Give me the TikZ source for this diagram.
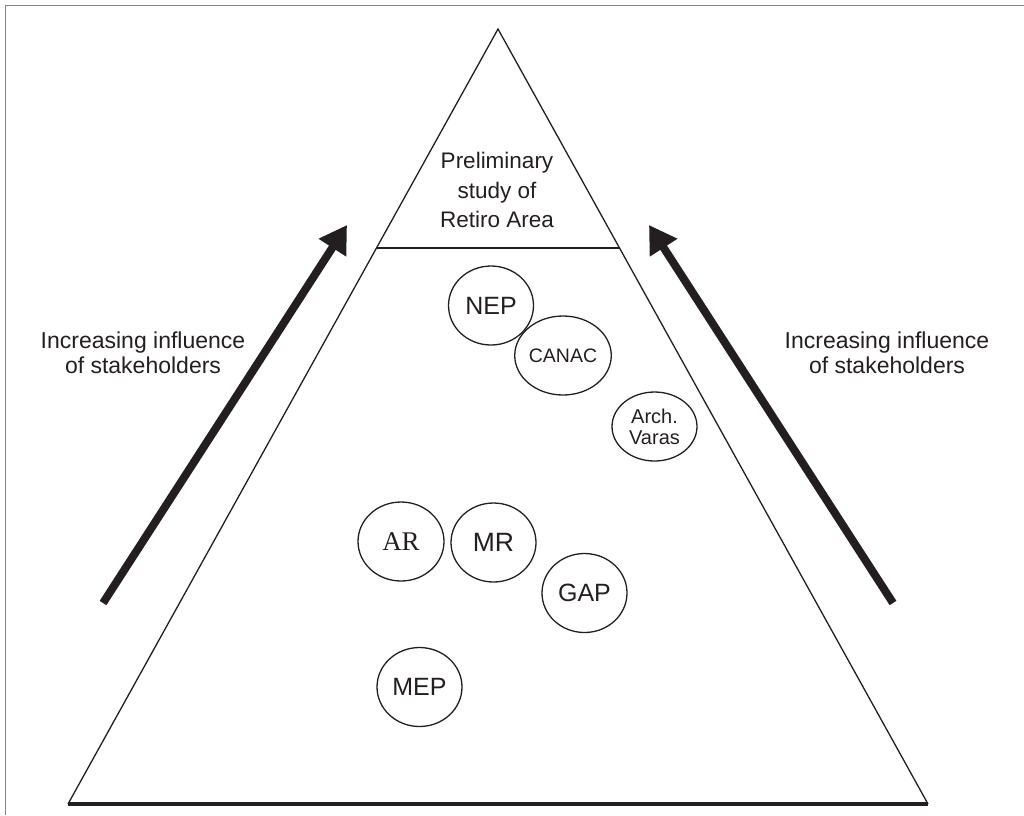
\documentclass[tikz,border=0pt]{standalone}
\usepackage{fontspec}
\setmainfont{Liberation Sans}
\newfontfamily\serifface{Liberation Serif}
\usetikzlibrary{shapes.geometric,arrows.meta}
\definecolor{ink}{HTML}{231F20}
\definecolor{framegray}{HTML}{858585}
\begin{document}
\begin{tikzpicture}[x=1pt,y=-1pt,
  actor/.style={ellipse,draw=ink,line width=1.3pt,inner sep=0pt,
    minimum width=85pt,minimum height=79pt,text=ink,align=center,
    font=\fontsize{25}{27}\selectfont},
  sideline/.style={draw=ink,line width=1.3pt,line join=miter},
  influence/.style={draw=ink,line width=8pt,
    -{Triangle[length=27pt,width=31pt]}},
  caption/.style={text=ink,align=center,font=\fontsize{23}{25}\selectfont}]
  \useasboundingbox (0,0) rectangle (1024,815);

  % outer frame (top and left edges)
  \draw[framegray,line width=1.5pt] (5.5,815) -- (5.5,5.5) -- (1024,5.5);

  % pyramid
  \coordinate (apex) at (498,29);
  \coordinate (bl) at (68,804);
  \coordinate (br) at (928,804);
  \coordinate (cutl) at (376.5,248);
  \coordinate (cutr) at (619.5,248);
  \draw[sideline] (bl) -- (apex) -- (br);
  \draw[draw=ink,line width=4pt] (bl) -- (br);
  \draw[draw=ink,line width=1.5pt] (cutl) -- (cutr);

  \node[text=ink,align=center,font=\fontsize{22.5}{29.5}\selectfont] (top) at (497,190)
    {Preliminary\\study of\\Retiro Area};

  % stakeholders
  \node[actor] (nep) at (491,305.5) {NEP};
  \node[actor,font=\fontsize{19.5}{21}\selectfont] (canac) at (563,355.5) {CANAC};
  \node[actor,minimum height=69pt,font=\fontsize{20}{21}\selectfont] (arch) at (654.5,426.5) {Arch.\\Varas};
  \node[actor,minimum width=86pt,font=\serifface\fontsize{27}{29}\selectfont] (ar) at (401,541.5) {AR};
  \node[actor,font=\fontsize{26.5}{28}\selectfont] (mr) at (493.5,542.5) {MR};
  \node[actor] (gap) at (584.5,593) {GAP};
  \node[actor] (mep) at (419.5,687) {MEP};

  % influence arrows
  \coordinate (ltail) at (103,603);
  \coordinate (ltip) at (347,225);
  \coordinate (rtail) at (893,603);
  \coordinate (rtip) at (649,225);
  \draw[influence] (ltail) -- (ltip);
  \draw[influence] (rtail) -- (rtip);

  \node[caption] (lcap) at (143,353) {Increasing influence\\of stakeholders};
  \node[caption] (rcap) at (887,353) {Increasing influence\\of stakeholders};
\end{tikzpicture}
\end{document}
